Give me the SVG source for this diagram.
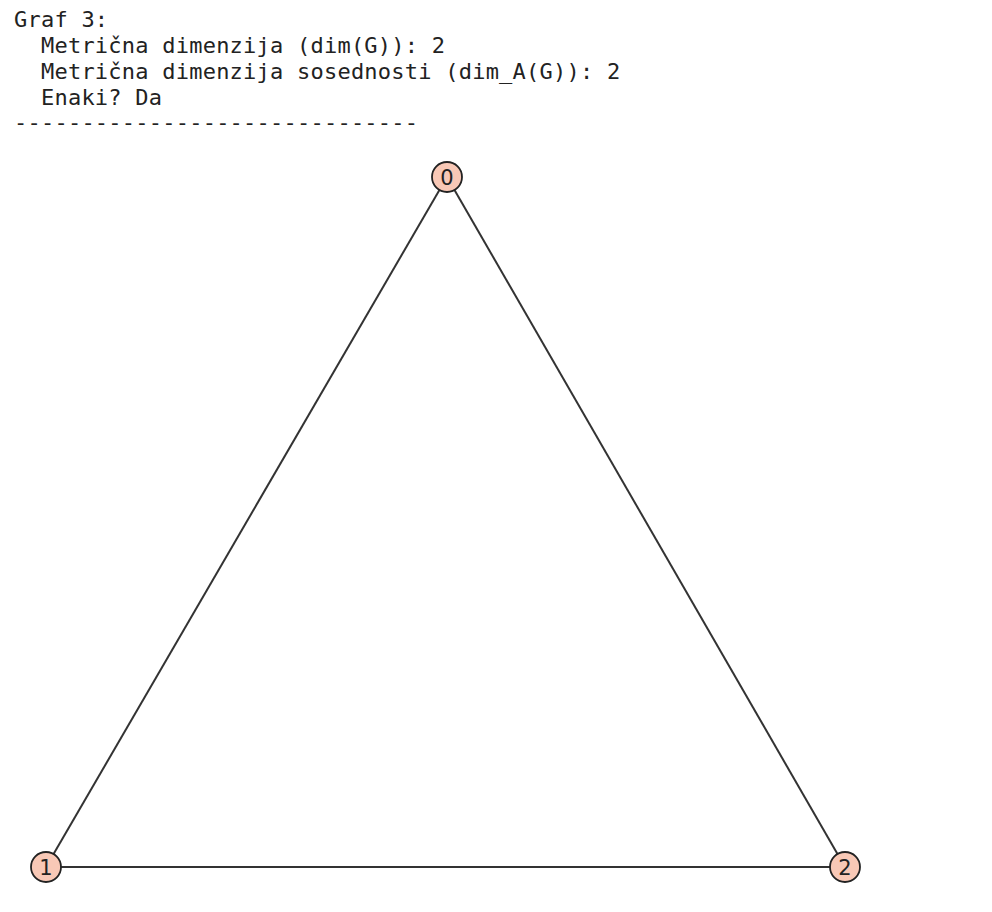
<svg xmlns="http://www.w3.org/2000/svg" width="992" height="912" viewBox="0 0 992 912">
<style>
.t{font-family:"DejaVu Sans Mono",monospace;font-size:22px;fill:#222;letter-spacing:0.23px}
.e{stroke:#333;stroke-width:2;fill:none}
.n circle{fill:#f8c8b6;stroke:#222;stroke-width:1.8}
.n text{font-family:"DejaVu Sans",sans-serif;font-size:21px;fill:#222;text-anchor:middle}
</style>
<rect width="992" height="912" fill="#fff"/>
<g id="header">
<text class="t" x="14" y="27" xml:space="preserve">Graf 3:</text>
<text class="t" x="14" y="53" xml:space="preserve">  Metrična dimenzija (dim(G)): 2</text>
<text class="t" x="14" y="79" xml:space="preserve">  Metrična dimenzija sosednosti (dim_A(G)): 2</text>
<text class="t" x="14" y="105" xml:space="preserve">  Enaki? Da</text>
<text class="t" x="14" y="130" xml:space="preserve">------------------------------</text>
</g>
<g id="edges">
<line class="e" x1="447" y1="177" x2="46" y2="867"/>
<line class="e" x1="447" y1="177" x2="845" y2="867"/>
<line class="e" x1="46" y1="867" x2="845" y2="867"/>
</g>
<g id="node0" class="n"><circle cx="447" cy="177" r="15"/><text x="447" y="184.5">0</text></g>
<g id="node1" class="n"><circle cx="46" cy="867" r="15"/><text x="46" y="874.5">1</text></g>
<g id="node2" class="n"><circle cx="845" cy="867" r="15"/><text x="845" y="874.5">2</text></g>
</svg>
